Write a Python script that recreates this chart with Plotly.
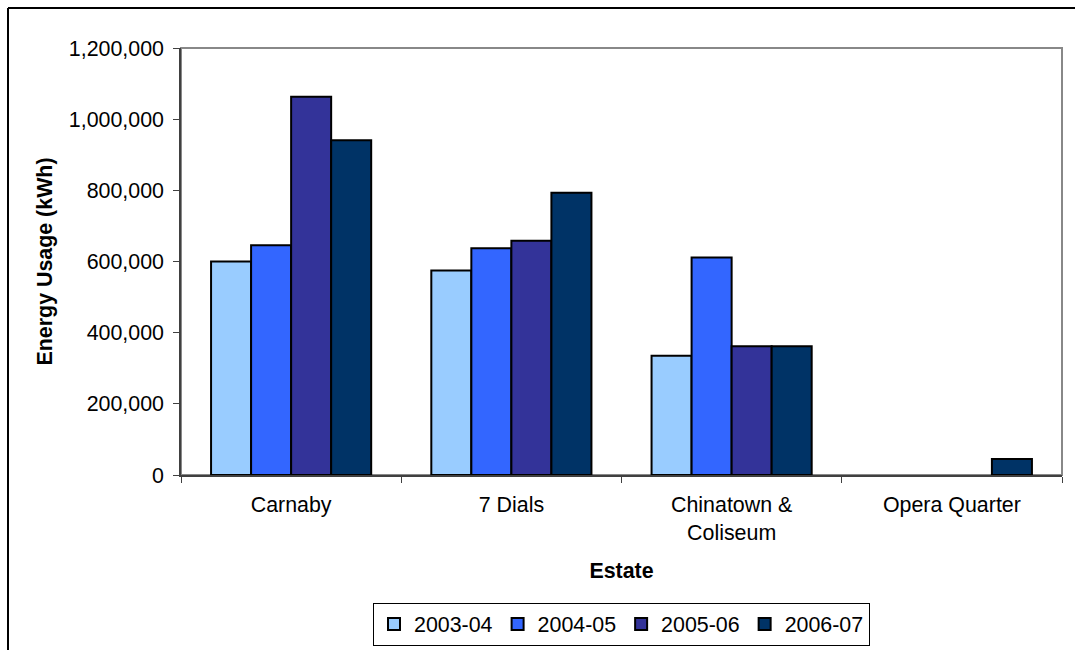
import plotly.graph_objects as go

# Energy usage per estate, by financial year (kWh); None = no reading
estates = ["Carnaby", "7 Dials", "Chinatown &<br>Coliseum", "Opera Quarter"]
years = ["2003-04", "2004-05", "2005-06", "2006-07"]
usage_2003_04 = [600000, 575000, 335000, None]
usage_2004_05 = [646000, 637000, 611000, None]
usage_2005_06 = [1063000, 658000, 362000, None]
usage_2006_07 = [941000, 793000, 362000, 45000]
colors = ["#99CCFF", "#3366FF", "#333399", "#003366"]

series = [usage_2003_04, usage_2004_05, usage_2005_06, usage_2006_07]

FONT = "Liberation Sans, Arial, sans-serif"
FS = 21.4

fig = go.Figure()
for name, vals, col in zip(years, series, colors):
    fig.add_trace(go.Bar(
        x=estates, y=vals, name=name,
        marker=dict(color=col, line=dict(color="#000000", width=2)),
    ))

W, H = 1075, 650
L, R, T, B = 181, 13, 48, 175
pw, ph = W - L - R, H - T - B


def px_x(x):
    return (x - L) / pw


def px_y(y):
    return (H - B - y) / ph


fig.update_layout(
    width=W, height=H,
    margin=dict(l=L, r=R, t=T, b=B, autoexpand=False),
    paper_bgcolor="white", plot_bgcolor="white",
    font=dict(family=FONT, size=FS, color="#000000"),
    barmode="group", bargap=0.273, bargroupgap=0,
    showlegend=True,
    legend=dict(
        orientation="h", x=0.5, xanchor="center",
        y=px_y(624), yanchor="middle",
        bordercolor="#000000", borderwidth=1,
        font=dict(size=FS), itemwidth=30,
        traceorder="normal",
    ),
    xaxis=dict(
        tickson="boundaries", ticks="outside", ticklen=6, tickcolor="#404040",
        showline=True, linecolor="#404040", linewidth=1.5,
        showgrid=False, ticklabelstandoff=10,
        title=dict(text="<b>Estate</b>", font=dict(size=FS), standoff=19),
        tickfont=dict(size=FS),
    ),
    yaxis=dict(
        range=[0, 1200000], dtick=200000, tickformat=",",
        ticks="outside", ticklen=6, tickcolor="#404040",
        showline=True, linecolor="#404040", linewidth=1.5,
        showgrid=False, zeroline=False, ticklabelstandoff=5,
        title=dict(text="<b>Energy Usage (kWh)</b>", font=dict(size=FS), standoff=10),
        tickfont=dict(size=FS),
    ),
    shapes=[
        # plot-area frame
        dict(type="rect", xref="paper", yref="paper", x0=0, x1=1, y0=0, y1=1,
             line=dict(color="#888888", width=2), layer="below"),
        # chart-area border (left and top edges)
        dict(type="line", xref="paper", yref="paper",
             x0=px_x(8), x1=px_x(8), y0=px_y(8), y1=px_y(660),
             line=dict(color="#000000", width=2)),
        dict(type="line", xref="paper", yref="paper",
             x0=px_x(8), x1=px_x(1080), y0=px_y(8), y1=px_y(8),
             line=dict(color="#000000", width=2)),
    ],
)

fig.write_html("out.html")
